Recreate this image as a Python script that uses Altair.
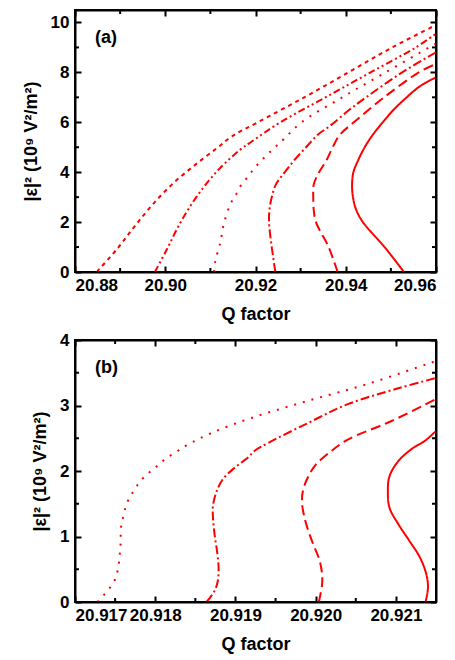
import altair as alt
import pandas as pd

FONT = "Liberation Sans"
RED = "#FF0000"

# ---------------- panel (a) data ----------------
a_styles = ["short dash", "dash dot dot", "dot", "dash dot", "dash", "solid"]
a_dashes = [[4, 4], [7, 3, 2, 3, 2, 3], [2, 7], [9, 3, 2, 3], [10, 5], [1, 0]]

a1_E = [0.0, 0.04, 0.91, 1.77, 2.64, 3.51, 4.28, 4.97, 5.44, 6.0, 7.0, 8.0, 9.0, 9.9]
a1_Q = [20.8849, 20.88504, 20.88926, 20.89296, 20.89689, 20.90148, 20.90652, 20.91148, 20.91481,
        20.9205, 20.9308, 20.9406, 20.9503, 20.9600]
a2_E = [0.0, 0.91, 1.97, 3.04, 4.04, 4.91, 5.24, 6.0, 7.0, 8.0, 9.0, 9.55]
a2_Q = [20.8977, 20.90037, 20.90333, 20.90704, 20.91148, 20.91667, 20.91926,
        20.9255, 20.9355, 20.9455, 20.9555, 20.9600]
a3_E = [0.0, 0.44, 1.18, 1.94, 2.71, 3.08, 3.48, 3.84, 4.21, 4.58, 4.98, 5.35, 6.0, 7.0, 8.0, 9.0, 9.15]
a3_Q = [20.9108, 20.9111, 20.9122, 20.9130, 20.9144, 20.9156, 20.9168, 20.9184, 20.9200, 20.9219,
        20.9242, 20.9264, 20.9302, 20.9392, 20.9488, 20.9585, 20.9600]
a4_E = [0.0, 1.0, 2.0, 2.5, 3.0, 3.5, 4.0, 4.5, 5.0, 5.5, 5.84, 6.5, 7.0, 8.0, 8.8]
a4_Q = [20.9244, 20.9236, 20.9230, 20.9231, 20.9236, 20.9245, 20.9265, 20.9287, 20.9312, 20.9338,
        20.9364, 20.9408, 20.9445, 20.9525, 20.9600]
a5_E = [0.0, 1.0, 2.0, 2.5, 3.0, 3.5, 4.0, 4.5, 5.0, 5.5, 6.0, 7.0, 8.0, 8.34]
a5_Q = [20.9382, 20.9362, 20.9334, 20.9329, 20.9328, 20.9329, 20.9341, 20.9358, 20.9371, 20.9387,
        20.9418, 20.9485, 20.9562, 20.9600]
a6_E = [0.0, 1.0, 2.0, 2.5, 3.0, 3.5, 4.0, 4.5, 5.0, 5.5, 6.0, 6.5, 7.0, 7.44, 7.8]
a6_Q = [20.9529, 20.9486, 20.9438, 20.9423, 20.9416, 20.9414, 20.9417, 20.9428, 20.9442, 20.9460,
        20.9482, 20.9506, 20.9535, 20.9564, 20.9600]

a_x_major = [20.88, 20.90, 20.92, 20.94, 20.96]
a_x_minor = [20.89, 20.91, 20.93, 20.95]
a_y_major = [0, 2, 4, 6, 8, 10]
a_y_minor = [1, 3, 5, 7, 9]

# ---------------- panel (b) data ----------------
b_styles = ["dot", "dash dot", "dash", "solid"]
b_dashes = [[2, 8], [9, 3, 2, 3], [9, 6], [1, 0]]

b1_E = [0.0, 0.18, 0.32, 0.47, 0.62, 0.76, 0.92, 1.06, 1.2, 1.34, 1.49, 1.63, 1.77, 1.92, 2.05,
        2.18, 2.29, 2.39, 2.58, 2.81, 3.07, 3.33, 3.68]
b1_Q = [20.91728, 20.91741, 20.91749, 20.91753, 20.91755, 20.91756, 20.91757, 20.91757, 20.91758,
        20.91761, 20.91764, 20.9177, 20.91777, 20.91787, 20.9180, 20.91812, 20.91826, 20.91839,
        20.9187, 20.9192, 20.9199, 20.92065, 20.9215]
b2_E = [0.0, 0.17, 0.32, 0.52, 0.78, 1.03, 1.29, 1.47, 1.67, 1.87, 2.05, 2.21, 2.31, 2.43, 2.73,
        3.02, 3.27, 3.42]
b2_Q = [20.91864, 20.91874, 20.91878, 20.91879, 20.91877, 20.91874, 20.91872, 20.91872, 20.91876,
        20.91884, 20.91899, 20.91916, 20.91924, 20.91941, 20.9199, 20.9204, 20.92105, 20.9215]
b3_E = [0.0, 0.27, 0.42, 0.63, 0.88, 1.08, 1.29, 1.52, 1.69, 1.87, 2.08, 2.31, 2.48, 2.76, 3.1]
b3_Q = [20.92004, 20.92008, 20.92008, 20.92005, 20.91997, 20.91991, 20.91986, 20.91983, 20.91984,
        20.91989, 20.91999, 20.9202, 20.9204, 20.92094, 20.9215]
b4_E = [0.0, 0.22, 0.42, 0.68, 0.93, 1.19, 1.44, 1.69, 1.92, 2.15, 2.33, 2.46, 2.61]
b4_Q = [20.92137, 20.9214, 20.92138, 20.9213, 20.92117, 20.92103, 20.92092, 20.9209, 20.92092,
        20.92103, 20.92119, 20.92136, 20.9215]

b_x_major = [20.917, 20.918, 20.919, 20.920, 20.921]
b_x_minor = [20.9175, 20.9185, 20.9195, 20.9205, 20.9215]
b_y_major = [0, 1, 2, 3, 4]
b_y_minor = [0.5, 1.5, 2.5, 3.5]

Y_TITLE = "|ε|² (10⁹ V²/m²)"
W, H = 361, 262
INWARD = alt.ExprRef("-6")


def frame(curves, styles):
    rows = []
    for st, (es, qs) in zip(styles, curves):
        for e, q in zip(es, qs):
            rows.append({"style": st, "E2": e, "Q": q})
    return pd.DataFrame(rows)


def tick_axis(vals, orient, **kw):
    return alt.Axis(values=vals, orient=orient, ticks=True, tickSize=INWARD, tickWidth=2,
                    tickColor="black", domain=True, domainColor="black", domainWidth=2,
                    grid=False, zindex=2, **kw)


def panel(df, styles, dashes, xdom, ydom, xmaj, xmin, ymaj, ymin, xfmt, tag):
    xs = alt.Scale(domain=xdom, nice=False, zero=False)
    ys = alt.Scale(domain=ydom, nice=False, zero=False)
    xax = tick_axis(xmaj, "bottom", format=xfmt, title="Q factor",
                    labelFont=FONT, labelFontSize=17, labelFontWeight="bold", labelColor="black",
                    labelPadding=11, titleFont=FONT, titleFontSize=18, titleFontWeight="bold",
                    titleColor="black", titlePadding=12)
    yax = tick_axis(ymaj, "left", format="d", title=Y_TITLE,
                    labelFont=FONT, labelFontSize=17, labelFontWeight="bold", labelColor="black",
                    labelPadding=12, titleFont=FONT, titleFontSize=18, titleFontWeight="bold",
                    titleColor="black", titlePadding=10)
    xtop = tick_axis(xmaj, "top", labels=False, title="")
    yright = tick_axis(ymaj, "right", labels=False, title="")

    lines = alt.Chart(df).mark_line(color=RED, strokeWidth=2, clip=True, strokeCap="butt",
                                    interpolate="catmull-rom").encode(
        x=alt.X("Q:Q", scale=xs, axis=xax),
        y=alt.Y("E2:Q", scale=ys, axis=yax),
        strokeDash=alt.StrokeDash("style:N", scale=alt.Scale(domain=styles, range=dashes), legend=None),
        order=alt.Order("E2:Q"),
    )
    layers = [lines]
    dx = pd.DataFrame({"v": xmin})
    layers.append(alt.Chart(dx).mark_rule(color="black", strokeWidth=2).encode(
        x=alt.X("v:Q", scale=xs, axis=xtop), y=alt.value(H), y2=alt.value(H - 4)))
    layers.append(alt.Chart(dx).mark_rule(color="black", strokeWidth=2).encode(
        x=alt.X("v:Q", scale=xs, axis=None), y=alt.value(0), y2=alt.value(4)))
    dy = pd.DataFrame({"v": ymin})
    layers.append(alt.Chart(dy).mark_rule(color="black", strokeWidth=2).encode(
        y=alt.Y("v:Q", scale=ys, axis=yright), x=alt.value(0), x2=alt.value(4)))
    layers.append(alt.Chart(dy).mark_rule(color="black", strokeWidth=2).encode(
        y=alt.Y("v:Q", scale=ys, axis=None), x=alt.value(W), x2=alt.value(W - 4)))
    label = alt.Chart(pd.DataFrame({"t": [tag]})).mark_text(
        font=FONT, fontSize=18, fontWeight="bold", align="left", baseline="top", color="black"
    ).encode(text="t:N", x=alt.value(20), y=alt.value(19))
    layers.append(label)
    return alt.layer(*layers).resolve_axis(x="independent", y="independent").properties(width=W, height=H)


dfa = frame([(a1_E, a1_Q), (a2_E, a2_Q), (a3_E, a3_Q), (a4_E, a4_Q), (a5_E, a5_Q), (a6_E, a6_Q)], a_styles)
dfb = frame([(b1_E, b1_Q), (b2_E, b2_Q), (b3_E, b3_Q), (b4_E, b4_Q)], b_styles)

pa = panel(dfa, a_styles, a_dashes, [20.88, 20.96], [0, 10.5], a_x_major, a_x_minor,
           a_y_major, a_y_minor, ".2f", "(a)")
pb = panel(dfb, b_styles, b_dashes, [20.917, 20.9215], [0, 4], b_x_major, b_x_minor,
           b_y_major, b_y_minor, ".3f", "(b)")

chart = alt.vconcat(pa, pb, spacing=6).properties(
    padding={"left": 13, "top": 0, "right": 0, "bottom": 0}
).configure_view(stroke="black", strokeWidth=2)

chart.save("out.html", embed_options={"renderer": "svg", "actions": False})
